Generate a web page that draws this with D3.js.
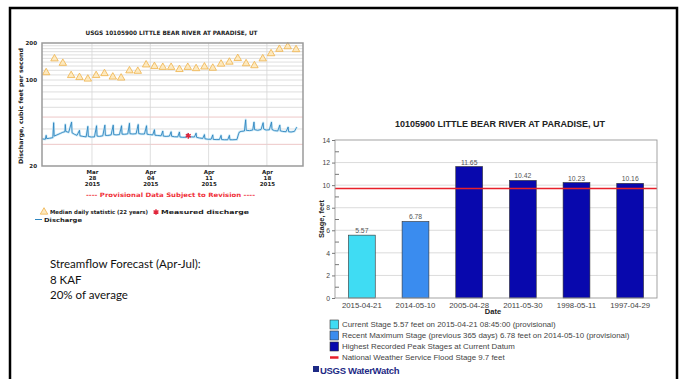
<!DOCTYPE html>
<html>
<head>
<meta charset="utf-8">
<script src="https://cdn.jsdelivr.net/npm/d3@7"></script>
<style>
  html, body { margin: 0; padding: 0; background: #fff; }
  svg { display: block; }
</style>
</head>
<body>
<svg id="slide" width="686" height="379"></svg>
<script>
// ---------- Hydrograph data (USGS 10105900, Mar 22 – Apr 22, 2015) ----------
const hydroStart = [2015, 2, 22];          // Mar 22 2015
const hydroEnd = [2015, 3, 22, 8];         // Apr 22 2015 08:00
const hydroTicks = [[2015, 2, 28], [2015, 3, 4], [2015, 3, 11], [2015, 3, 18]];
const hydroTickLabels = [["Mar", "28", "2015"], ["Apr", "04", "2015"], ["Apr", "11", "2015"], ["Apr", "18", "2015"]];
const dischargeTickValues = [20, 100, 200];
const dischargeGrid = [30, 40, 50, 60, 70, 80, 90, 100, 110, 120, 130, 140, 150, 160, 170, 180, 190];

// median daily statistic (22 years), one value per day starting Mar 22
const medianDailyCfs = [115, 149, 137, 109, 105, 102, 109, 113, 106, 104, 119, 118, 133, 129, 127, 127,
  122, 127, 124, 128, 125, 135, 140, 150, 136, 131, 149, 164, 178, 187, 177];

// discharge record: [days since Mar 22 00:00, cfs]
const dischargeSeries = [
  [0.00, 33.2], [0.40, 33.0], [0.50, 35.5], [0.56, 33.4], [0.90, 33.6],
  [1.30, 34.0], [1.40, 45.0], [1.46, 35.0], [1.80, 35.8],
  [2.20, 36.8], [2.50, 37.6], [2.75, 38.0], [2.80, 43.5], [2.86, 38.2],
  [3.20, 37.5], [3.55, 45.5], [3.61, 37.2], [3.90, 36.2],
  [4.20, 35.5], [4.50, 39.0], [4.56, 35.2], [4.90, 34.8],
  [5.30, 34.5], [5.50, 42.0], [5.56, 34.8], [5.90, 34.4],
  [6.30, 34.5], [6.55, 42.5], [6.61, 35.0], [6.90, 34.8],
  [7.30, 35.2], [7.55, 43.0], [7.61, 35.5], [7.90, 35.4],
  [8.30, 35.8], [8.55, 43.0], [8.61, 36.0], [8.90, 35.8],
  [9.30, 36.0], [9.55, 42.5], [9.61, 36.3], [9.90, 36.2],
  [10.30, 36.5], [10.50, 44.5], [10.56, 36.6], [10.90, 36.4],
  [11.30, 36.6], [11.55, 43.5], [11.61, 36.7], [11.90, 36.4],
  [12.30, 36.4], [12.55, 42.5], [12.61, 36.3], [12.90, 36.0],
  [13.30, 35.8], [13.50, 39.5], [13.56, 35.6], [13.90, 35.4],
  [14.30, 35.2], [14.50, 38.5], [14.56, 35.0], [14.90, 34.8],
  [15.30, 35.0], [15.50, 38.0], [15.56, 34.9], [15.90, 34.6],
  [16.30, 34.5], [16.50, 37.8], [16.56, 34.4], [16.90, 34.2],
  [17.30, 34.3], [17.50, 36.5], [17.56, 34.4], [17.90, 34.5],
  [18.30, 34.4], [18.50, 37.0], [18.56, 34.2], [18.90, 33.8],
  [19.30, 33.5], [19.50, 36.0], [19.56, 33.3], [19.90, 33.0],
  [20.30, 33.0], [20.50, 35.8], [20.56, 32.9], [20.90, 32.8],
  [21.30, 32.8], [21.50, 35.5], [21.56, 32.8], [21.90, 32.7],
  [22.30, 32.7], [22.50, 35.5], [22.56, 32.7], [22.90, 32.7],
  [23.40, 32.8], [23.60, 36.5], [23.70, 37.8], [23.90, 38.2],
  [24.30, 38.5], [24.45, 47.5], [24.52, 39.0], [24.90, 38.8],
  [25.30, 39.2], [25.45, 45.5], [25.52, 39.5], [25.90, 39.0],
  [26.30, 39.6], [26.55, 45.0], [26.61, 40.0], [26.90, 39.2],
  [27.30, 39.4], [27.55, 45.5], [27.61, 39.6], [27.90, 38.8],
  [28.30, 38.5], [28.55, 43.0], [28.61, 38.6], [28.90, 38.2],
  [29.30, 38.0], [29.55, 41.5], [29.61, 38.0], [29.90, 37.8],
  [30.30, 38.2], [30.55, 41.0], [30.62, 41.5]
];
// field measurement: [days since Mar 22 00:00, cfs]
const measuredDischarge = [[17.56, 35.2]];

// ---------- Stage data ----------
const stageDates = ["2015-04-21", "2014-05-10", "2005-04-28", "2011-05-30", "1998-05-11", "1997-04-29"];
const stageFeet = [5.57, 6.78, 11.65, 10.42, 10.23, 10.16];
const stageKinds = ["current", "recent", "peak", "peak", "peak", "peak"];
const stageTicks = [0, 2, 4, 6, 8, 10, 12, 14];
const stageMinorTicks = [1, 3, 5, 7, 9, 11, 13];
const floodStageFeet = 9.7;
const stageLegend = [
  ["current", "Current Stage 5.57 feet on 2015-04-21 08:45:00 (provisional)"],
  ["recent", "Recent Maximum Stage (previous 365 days) 6.78 feet on 2014-05-10 (provisional)"],
  ["peak", "Highest Recorded Peak Stages at Current Datum"],
  ["flood", "National Weather Service Flood Stage 9.7 feet"]
];

const forecastLines = ["Streamflow Forecast (Apr-Jul):", "8 KAF", "20% of average"];

// ---------- Drawing ----------
const svg = d3.select("#slide");
const pixelFont = "'DejaVu Sans', sans-serif";
const arial = "'Liberation Sans', Arial, sans-serif";

// slide frame
svg.append("path")
  .attr("d", "M10,379 V8 H677 V379")
  .attr("fill", "none").attr("stroke", "#000").attr("stroke-width", 2.5);

// ===== Left: discharge hydrograph =====
const toDate = a => new Date(a[0], a[1], a[2], a[3] || 0);
const t0 = toDate(hydroStart);
const dayToDate = d => new Date(t0.getTime() + d * 864e5);

const hx = d3.scaleTime().domain([t0, toDate(hydroEnd)]).range([42, 303]);
const hy = d3.scaleLog().domain([20, 200]).range([166, 43]);

const hydro = svg.append("g");

// horizontal log grid
hydro.append("g").selectAll("line").data(dischargeGrid).join("line")
  .attr("x1", 42).attr("x2", 303)
  .attr("y1", d => hy(d)).attr("y2", d => hy(d))
  .attr("stroke", d => (d === 30 || d === 50) ? "#e9b7b7" : "#d6d6d6")
  .attr("stroke-width", 0.8);

// weekly vertical grid
hydro.append("g").selectAll("line").data(hydroTicks).join("line")
  .attr("x1", d => hx(toDate(d))).attr("x2", d => hx(toDate(d)))
  .attr("y1", 43).attr("y2", 166)
  .attr("stroke", "#d6d6d6").attr("stroke-width", 0.8);

// discharge line (soft halo + line)
const dLine = d3.line().x(d => hx(dayToDate(d[0]))).y(d => hy(d[1]));
hydro.append("path").datum(dischargeSeries)
  .attr("d", dLine).attr("fill", "none")
  .attr("stroke", "#cfeaf7").attr("stroke-width", 2.4).attr("stroke-linejoin", "round");
hydro.append("path").datum(dischargeSeries)
  .attr("d", dLine).attr("fill", "none")
  .attr("stroke", "#2f86c0").attr("stroke-width", 0.9).attr("stroke-linejoin", "round");

// median daily triangles at noon
const tri = d3.symbol().type(d3.symbolTriangle).size(24);
hydro.append("g").selectAll("path").data(medianDailyCfs).join("path")
  .attr("d", tri)
  .attr("transform", (d, i) => `translate(${hx(dayToDate(i + 0.5))},${hy(d)})`)
  .attr("fill", "#fde9bf").attr("stroke", "#efb24a").attr("stroke-width", 0.8);

// measured discharge
const star = d3.symbol().type(d3.symbolAsterisk).size(22);
hydro.append("g").selectAll("path").data(measuredDischarge).join("path")
  .attr("d", star)
  .attr("transform", d => `translate(${hx(dayToDate(d[0]))},${hy(d[1])})`)
  .attr("fill", "none").attr("stroke", "#e0243a").attr("stroke-width", 1.4);

// plot frame
hydro.append("rect").attr("x", 42).attr("y", 43).attr("width", 261).attr("height", 123)
  .attr("fill", "none").attr("stroke", "#9a9a9a").attr("stroke-width", 1.5);

// y axis labels
const hyAxis = d3.axisLeft(hy).tickValues(dischargeTickValues).tickSize(0).tickPadding(5).tickFormat(d3.format("d"));
hydro.append("g").attr("transform", "translate(42,0)").call(hyAxis)
  .call(g => g.select(".domain").remove())
  .selectAll("text").attr("font-family", pixelFont).attr("font-weight", "bold")
  .attr("font-size", 5.5).attr("fill", "#222");

// x axis: three-line date labels
const hxAxis = d3.axisBottom(hx).tickValues(hydroTicks.map(toDate)).tickSize(0).tickFormat("");
const hxG = hydro.append("g").attr("transform", "translate(0,166)").call(hxAxis);
hxG.select(".domain").remove();
hxG.selectAll(".tick text").data(hydroTickLabels)
  .attr("font-family", pixelFont).attr("font-weight", "bold").attr("font-size", 5.5).attr("fill", "#222")
  .attr("y", 8)
  .selectAll("tspan").data(d => d).join("tspan")
  .attr("x", 0).attr("dy", (d, i) => i === 0 ? 0 : 6.2).text(d => d);

// title
hydro.append("text").attr("x", 171.5).attr("y", 35).attr("text-anchor", "middle")
  .attr("font-family", pixelFont).attr("font-weight", "bold").attr("font-size", 6)
  .attr("textLength", 172).attr("lengthAdjust", "spacingAndGlyphs").attr("fill", "#222")
  .text("USGS 10105900 LITTLE BEAR RIVER AT PARADISE, UT");

// y title
hydro.append("text").attr("transform", "translate(23,106) rotate(-90)").attr("text-anchor", "middle")
  .attr("font-family", pixelFont).attr("font-weight", "bold").attr("font-size", 6)
  .attr("textLength", 116).attr("lengthAdjust", "spacingAndGlyphs").attr("fill", "#222")
  .text("Discharge, cubic feet per second");

// provisional note
hydro.append("text").attr("x", 170.5).attr("y", 197).attr("text-anchor", "middle")
  .attr("font-family", pixelFont).attr("font-weight", "bold").attr("font-size", 6)
  .attr("textLength", 169).attr("lengthAdjust", "spacingAndGlyphs").attr("fill", "#f0303a")
  .text("---- Provisional Data Subject to Revision ----");

// legend
hydro.append("path").attr("d", tri).attr("transform", "translate(44,212)")
  .attr("fill", "#fde9bf").attr("stroke", "#efb24a").attr("stroke-width", 0.8);
hydro.append("text").attr("x", 50).attr("y", 214)
  .attr("font-family", pixelFont).attr("font-weight", "bold").attr("font-size", 5.5)
  .attr("textLength", 98).attr("lengthAdjust", "spacingAndGlyphs").attr("fill", "#222")
  .text("Median daily statistic (22 years)");
hydro.append("path").attr("d", star).attr("transform", "translate(156,212)")
  .attr("fill", "none").attr("stroke", "#e0243a").attr("stroke-width", 1.4);
hydro.append("text").attr("x", 161).attr("y", 214)
  .attr("font-family", pixelFont).attr("font-weight", "bold").attr("font-size", 5.5)
  .attr("textLength", 88).attr("lengthAdjust", "spacingAndGlyphs").attr("fill", "#222")
  .text("Measured discharge");
hydro.append("line").attr("x1", 35).attr("x2", 42).attr("y1", 219.5).attr("y2", 219.5)
  .attr("stroke", "#2f86c0").attr("stroke-width", 1);
hydro.append("text").attr("x", 44).attr("y", 221.5)
  .attr("font-family", pixelFont).attr("font-weight", "bold").attr("font-size", 5.5)
  .attr("textLength", 38).attr("lengthAdjust", "spacingAndGlyphs").attr("fill", "#222")
  .text("Discharge");

// ===== Forecast text =====
svg.append("g").selectAll("text").data(forecastLines).join("text")
  .attr("x", 50).attr("y", (d, i) => 268 + i * 15.5)
  .attr("font-family", "Lato, 'Open Sans', sans-serif").attr("font-size", 11.5).attr("fill", "#111")
  .text(d => d);

// ===== Right: stage bar chart =====
const sx = d3.scaleBand().domain(stageDates).range([335, 657]).paddingInner(0.5).paddingOuter(0.25);
const sy = d3.scaleLinear().domain([0, 14]).range([298, 140]);
const stageColor = { current: "#3fdcf3", recent: "#3a8cef", peak: "#0808ad", flood: "#e8202a" };

const stage = svg.append("g");

// grid
stage.append("g").selectAll("line").data(stageTicks.filter(d => d > 0 && d < 14)).join("line")
  .attr("x1", 335).attr("x2", 657).attr("y1", d => sy(d)).attr("y2", d => sy(d))
  .attr("stroke", "#d2d2d2").attr("stroke-width", 0.8);

// bars
stage.append("g").selectAll("rect").data(stageFeet).join("rect")
  .attr("x", (d, i) => sx(stageDates[i])).attr("width", sx.bandwidth())
  .attr("y", d => sy(d)).attr("height", d => sy(0) - sy(d))
  .attr("fill", (d, i) => stageColor[stageKinds[i]])
  .attr("stroke", "#333").attr("stroke-width", 0.6);

// value labels
stage.append("g").selectAll("text").data(stageFeet).join("text")
  .attr("x", (d, i) => sx(stageDates[i]) + sx.bandwidth() / 2).attr("y", d => sy(d) - 2)
  .attr("text-anchor", "middle").attr("font-family", arial).attr("font-size", 6.8).attr("fill", "#555")
  .text(d => d3.format(".2f")(d));

// flood stage line
stage.append("line").attr("x1", 335).attr("x2", 657)
  .attr("y1", sy(floodStageFeet)).attr("y2", sy(floodStageFeet))
  .attr("stroke", stageColor.flood).attr("stroke-width", 1.4);

// frame
stage.append("rect").attr("x", 335).attr("y", 140).attr("width", 322).attr("height", 158)
  .attr("fill", "none").attr("stroke", "#999").attr("stroke-width", 0.9);

// y axis
const syAxis = d3.axisLeft(sy).tickValues(stageTicks).tickSize(3).tickPadding(2);
stage.append("g").attr("transform", "translate(335,0)").call(syAxis)
  .call(g => g.select(".domain").remove())
  .call(g => g.selectAll("line").attr("stroke", "#777"))
  .selectAll("text").attr("font-family", arial).attr("font-size", 6.8).attr("fill", "#444");
stage.append("g").attr("transform", "translate(335,0)")
  .call(d3.axisLeft(sy).tickValues(stageMinorTicks).tickSize(-4).tickFormat(""))
  .call(g => g.select(".domain").remove())
  .call(g => g.selectAll("line").attr("stroke", "#777"));

// x axis
const sxAxis = d3.axisBottom(sx).tickSize(0).tickPadding(4);
stage.append("g").attr("transform", "translate(0,298)").call(sxAxis)
  .call(g => g.select(".domain").remove())
  .selectAll("text").attr("font-family", arial).attr("font-size", 7.8).attr("fill", "#444");

// titles
stage.append("text").attr("x", 500).attr("y", 127).attr("text-anchor", "middle")
  .attr("font-family", arial).attr("font-weight", "bold").attr("font-size", 9).attr("fill", "#222")
  .text("10105900 LITTLE BEAR RIVER AT PARADISE, UT");
stage.append("text").attr("x", 493).attr("y", 313.5).attr("text-anchor", "middle")
  .attr("font-family", arial).attr("font-weight", "bold").attr("font-size", 7.5).attr("fill", "#222")
  .text("Date");
stage.append("text").attr("transform", "translate(324,219) rotate(-90)").attr("text-anchor", "middle")
  .attr("font-family", arial).attr("font-weight", "bold").attr("font-size", 7.5).attr("fill", "#222")
  .text("Stage, feet");

// legend
const leg = stage.append("g").selectAll("g").data(stageLegend).join("g")
  .attr("transform", (d, i) => `translate(330,${324.5 + i * 11})`);
leg.filter(d => d[0] !== "flood").append("rect")
  .attr("x", 0).attr("y", -4.5).attr("width", 8.5).attr("height", 9)
  .attr("fill", d => stageColor[d[0]]).attr("stroke", "#333").attr("stroke-width", 0.6);
leg.filter(d => d[0] === "flood").append("line")
  .attr("x1", 0).attr("x2", 8.5).attr("y1", 0).attr("y2", 0)
  .attr("stroke", stageColor.flood).attr("stroke-width", 2.5);
leg.append("text").attr("x", 12).attr("y", 2.7)
  .attr("font-family", arial).attr("font-size", 7.9).attr("fill", "#444")
  .text(d => d[1]);

// WaterWatch logo text
stage.append("rect").attr("x", 313).attr("y", 366).attr("width", 6).attr("height", 6).attr("fill", "#1d2a85");
stage.append("text").attr("x", 320).attr("y", 374)
  .attr("font-family", arial).attr("font-weight", "bold").attr("font-size", 9.5)
  .attr("letter-spacing", -0.3).attr("fill", "#1d2a85")
  .text("USGS WaterWatch");
</script>
</body>
</html>
